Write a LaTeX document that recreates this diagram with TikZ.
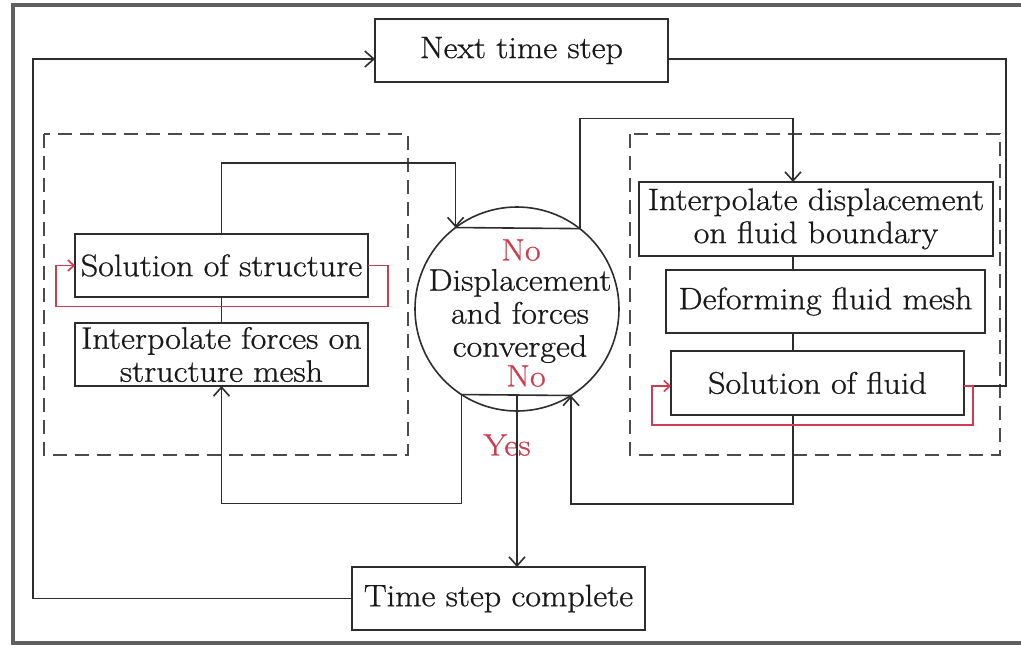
\documentclass[tikz,border=0pt]{standalone}
\usepackage{fontspec}
\setmainfont{Latin Modern Roman}[FakeStretch=1.1,FakeBold=0.8]
\usetikzlibrary{arrows.meta}
\definecolor{ln}{RGB}{45,45,45}
\definecolor{rd}{RGB}{205,60,80}
\definecolor{fr}{RGB}{95,95,95}
\definecolor{dsh}{RGB}{75,75,75}
\definecolor{tx}{RGB}{25,25,25}
\begin{document}
\begin{tikzpicture}[x=1pt,y=-1pt,
  box/.style={draw=ln,line width=1.6pt,inner sep=0pt,outer sep=0pt,align=center,
    font=\fontsize{31}{33}\selectfont,text=tx},
  txt/.style={inner sep=0pt,align=center,font=\fontsize{31}{33}\selectfont,text=tx},
  conn/.style={draw=ln,line width=1.6pt},
  arr/.style={conn,-{Straight Barb[length=9pt,width=16pt,line width=1.6pt]}},
  rarr/.style={draw=rd,line width=1.6pt,-{Straight Barb[length=6pt,width=11pt,line width=1.6pt]}},
  grp/.style={draw=dsh,line width=1.8pt,dash pattern=on 14pt off 8pt},
  lab/.style={inner sep=0pt,font=\fontsize{31}{33}\selectfont,text=rd}
]
\useasboundingbox (0,0) rectangle (1021,645);
% outer frame
\draw[fr,line width=3.5pt] (1021,5) -- (13,5) -- (13,643) -- (1021,643);
% dashed groups
\draw[grp] (44,134) rectangle (408,455);
\draw[grp] (630,134) rectangle (1000,455);

% nodes
\node[box,minimum width=293pt,minimum height=63pt] (next) at (521.5,50.5) {Next time step};
\node[box,minimum width=293pt,minimum height=63pt] (tsc) at (498.5,598.5) {Time step complete};
\node[box,minimum width=293pt,minimum height=63pt] (sos) at (221.5,265.5) {Solution of structure};
\node[box,minimum width=293pt,minimum height=63pt] (ifs) at (221.5,354.5) {Interpolate forces on\\structure mesh};
\node[box,minimum width=354pt,minimum height=74pt] (idp) at (816,219) {Interpolate displacement\\on fluid boundary};
\node[box,minimum width=319pt,minimum height=63pt] (dfm) at (825.5,301.5) {Deforming fluid mesh};
\node[box,minimum width=293pt,minimum height=64pt] (sof) at (817.5,383) {Solution of fluid};
\node[box,circle,minimum size=204pt] (conv) at (517,309) {};
\node[txt] (convtxt) at (520,316) {Displacement\\and forces\\converged};

\node[lab] (no1) at (521,250) {No};
\node[lab] (no2) at (526,376) {No};
\node[lab] (yes) at (507,445) {Yes};

\coordinate (fx) at (793,0);
\coordinate (lx) at (33,59);
\coordinate (rx) at (1006,59);

% structure -> convergence
\draw[arr] (sos.north) -- ++(0,-71) -| (conv.127.4);
\draw[conn] (conv.127.4) -- (conv.52.6);
\draw[arr] (conv.52.6) -- ++(0,-110) -| (idp.north -| fx);
\draw[conn] (idp.south -| fx) -- (dfm.north -| fx);
\draw[conn] (dfm.south -| fx) -- (sof.north -| fx);
\draw[arr] (sof.south -| fx) -- ++(0,89) -| (conv.302.6);
\draw[conn] (conv.237.4) -- (conv.302.6);
\draw[arr] (conv.237.4) -- ++(0,109) -| (ifs.south);
\draw[conn] (sos.south) -- (ifs.north);
\draw[arr] (conv.237.4 -| conv.center) -- (conv.center |- tsc.north);
% time loop
\draw[arr] (tsc.west) -| (lx) -- (next.west |- lx);
\draw[conn] (next.east |- lx) -- (rx) |- ([yshift=-3pt]sof.east);
% red inner loops
\draw[rarr] (sos.east) -- ++(20,0) -- ++(0,41) -- ++(-332,0) -- ++(0,-41) -- (sos.west);
\draw[rarr] ([yshift=-3pt]sof.east) -- ++(9,0) -- ++(0,39) -- ++(-321,0) -- ++(0,-39) -- ([yshift=-3pt]sof.west);
\end{tikzpicture}
\end{document}
